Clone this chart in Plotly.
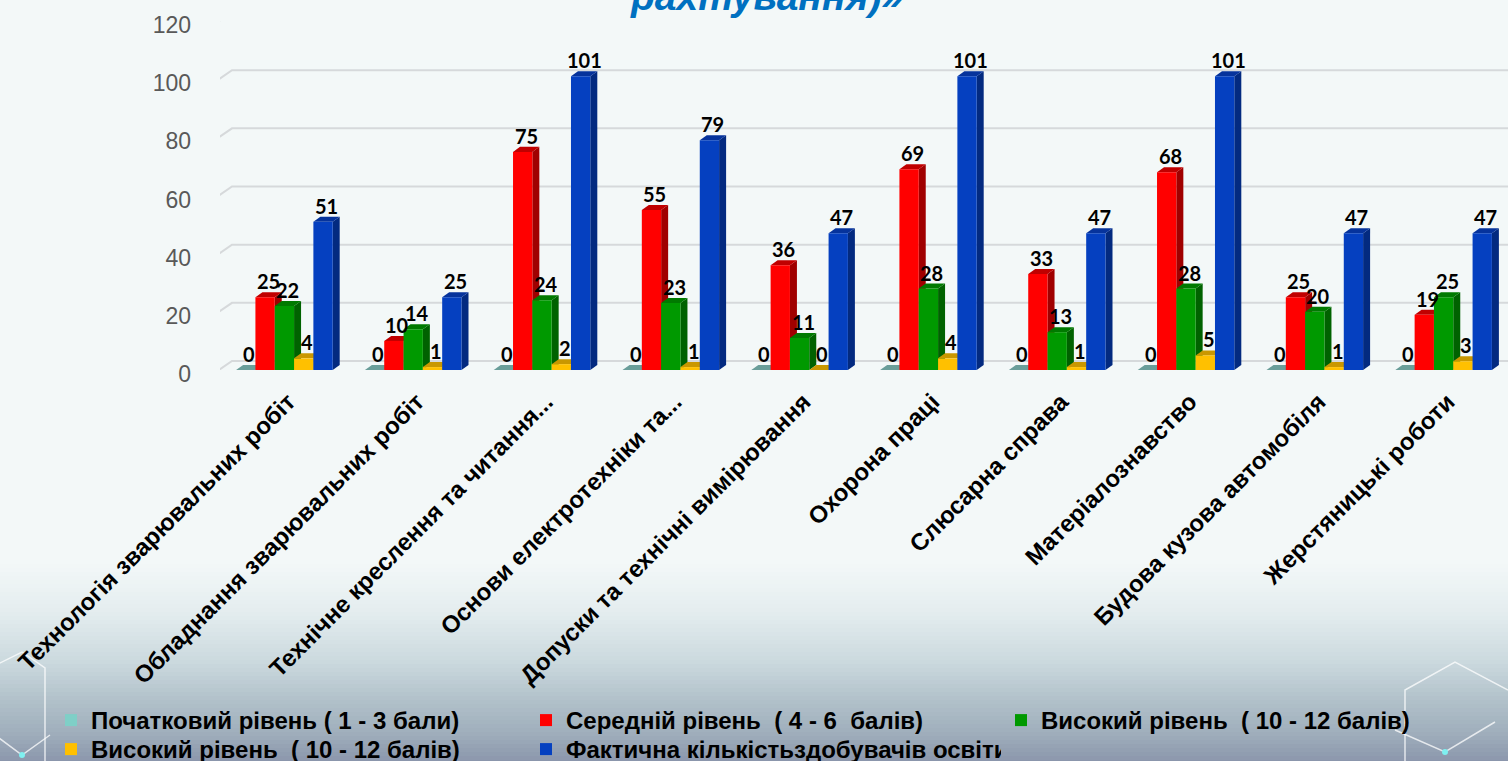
import plotly.graph_objects as go

# ---------------- data ----------------
categories = [
    "Технологія зварювальних робіт",
    "Обладнання зварювальних робіт",
    "Технічне креслення та читання...",
    "Основи електротехніки та...",
    "Допуски та технічні вимірювання",
    "Охорона праці",
    "Слюсарна справа",
    "Матеріалознавство",
    "Будова кузова автомобіля",
    "Жерстяницькі роботи",
]
series_names = [
    "Початковий рівень ( 1 - 3 бали)",
    "Середній рівень  ( 4 - 6  балів)",
    "Високий рівень  ( 10 - 12 балів)",
    "Високий рівень  ( 10 - 12 балів)",
    "Фактична кількістьздобувачів освіти",
]
initial_level = [0, 0, 0, 0, 0, 0, 0, 0, 0, 0]
middle_level = [25, 10, 75, 55, 36, 69, 33, 68, 25, 19]
high_level_green = [22, 14, 24, 23, 11, 28, 13, 28, 20, 25]
high_level_yellow = [4, 1, 2, 1, 0, 4, 1, 5, 1, 3]
actual_students = [51, 25, 101, 79, 47, 101, 47, 101, 47, 47]
y_ticks = [0, 20, 40, 60, 80, 100, 120]
title_fragment = "рахтування)»"

series_values = [initial_level, middle_level, high_level_green, high_level_yellow, actual_students]

# ---------------- styles ----------------
front_colors = ["#7FCFC7", "#FF0000", "#009900", "#FFC000", "#0540C0"]
top_colors = ["#6A9E9A", "#C00000", "#007A00", "#C99700", "#06339C"]
side_colors = ["#5A8A86", "#A00000", "#006200", "#B08400", "#032A80"]
legend_of_series = ["legend", "legend", "legend", "legend2", "legend2"]

W, H = 1508, 761
ML, MR, MT, MB = 220, 0, 21, 391
PW, PH = W - ML - MR, H - MT - MB
YMAX = 120
XMIN, XMAX = -0.5, len(categories) - 0.5
px_x = PW / (XMAX - XMIN)
px_y = PH / YMAX
BARGAP = 0.25
n_series = len(series_values)
bar_w = (1 - BARGAP) / n_series
DEPTH_X, DEPTH_Y = 7 / px_x, 5 / px_y  # bar depth, in data units
WALL_X, WALL_Y = 16 / px_x, 11 / px_y  # wall depth

FONT = "Liberation Sans, Arial, sans-serif"
LABEL_FONT = "Lato, Liberation Sans, sans-serif"

def pxx(p):
    return (p - ML) / PW

def pxy(p):
    return (H - MB - p) / PH

fig = go.Figure()
xs = list(range(len(categories)))
for k in range(n_series):
    fig.add_trace(go.Bar(
        x=xs, y=series_values[k], name=series_names[k], legend=legend_of_series[k],
        marker=dict(color=front_colors[k], line=dict(width=0)),
        hoverinfo="name+y",
    ))

shapes = []
# background gradient (bottom of slide)
stops = [(560, (243, 248, 248)), (610, (228, 237, 239)), (660, (203, 217, 222)),
         (700, (176, 192, 201)), (730, (160, 175, 188)), (761, (138, 149, 171))]
band = 4
y = stops[0][0]
while y < H:
    for i in range(len(stops) - 1):
        if stops[i][0] <= y <= stops[i + 1][0]:
            t = (y - stops[i][0]) / (stops[i + 1][0] - stops[i][0])
            c = tuple(int(round(stops[i][1][j] + t * (stops[i + 1][1][j] - stops[i][1][j]))) for j in range(3))
            break
    shapes.append(dict(type="rect", xref="paper", yref="paper", layer="below",
                       x0=pxx(0), x1=pxx(W), y0=pxy(y + band + 1), y1=pxy(y),
                       fillcolor="rgb(%d,%d,%d)" % c, line=dict(width=0)))
    y += band

# decorative hexagons
def hexpath(pts):
    return "M " + " L ".join("%f,%f" % (pxx(a), pxy(b)) for a, b in pts)

hex_lines = [
    [(-10, 668), (22, 652), (45, 668), (45, 761)],
    [(-5, 735), (22, 755), (50, 735)],
    [(1405, 761), (1405, 690), (1455, 662), (1508, 690)],
    [(1395, 730), (1445, 752), (1495, 722)],
]
for pts in hex_lines:
    shapes.append(dict(type="path", xref="paper", yref="paper", layer="below",
                       path=hexpath(pts), line=dict(color="rgba(255,255,255,0.75)", width=1.5)))
for cx, cy in [(22, 755), (1445, 752)]:
    shapes.append(dict(type="circle", xref="paper", yref="paper", layer="below",
                       x0=pxx(cx - 3), x1=pxx(cx + 3), y0=pxy(cy + 3), y1=pxy(cy - 3),
                       fillcolor="#7FF0F0", line=dict(width=0)))

# back-wall gridlines
for v in y_ticks:
    shapes.append(dict(type="path", xref="x", yref="y", layer="below",
                       path="M %f,%f L %f,%f L %f,%f" % (XMIN - 4 / px_x, v - 2 / px_y,
                                                          XMIN - 4 / px_x + WALL_X, v - 2 / px_y + WALL_Y,
                                                          XMAX + 1, v - 2 / px_y + WALL_Y),
                       line=dict(color="#D6D9DB", width=2)))

# 3D faces of each bar (drawn behind the front faces)
annotations = []
for i in xs:
    for k in range(n_series):
        v = series_values[k][i]
        left = i - (1 - BARGAP) / 2 + k * bar_w
        right = left + bar_w
        shapes.append(dict(type="path", xref="x", yref="y", layer="below",
                           path="M %f,0 L %f,%f L %f,%f L %f,%f Z" % (
                               right, right + DEPTH_X, DEPTH_Y, right + DEPTH_X, v + DEPTH_Y, right, v),
                           fillcolor=side_colors[k], line=dict(width=0)))
        shapes.append(dict(type="path", xref="x", yref="y", layer="below",
                           path="M %f,%f L %f,%f L %f,%f L %f,%f Z" % (
                               left, v, right, v, right + DEPTH_X, v + DEPTH_Y, left + DEPTH_X, v + DEPTH_Y),
                           fillcolor=top_colors[k], line=dict(width=0)))
        annotations.append(dict(x=(left + right) / 2 + DEPTH_X / 2, y=v + DEPTH_Y, xref="x", yref="y",
                                text=str(v), showarrow=False, yanchor="bottom", yshift=-3,
                                font=dict(family=LABEL_FONT, size=20, color="#000000", weight=700)))

annotations.append(dict(x=pxx(766), y=pxy(20), xref="paper", yref="paper",
                        text="<i><b>%s</b></i>" % title_fragment, showarrow=False,
                        xanchor="center", yanchor="bottom",
                        font=dict(family=FONT, size=39, color="#0070C0")))

legend_style = dict(orientation="h", xref="paper", yref="paper", xanchor="left", yanchor="top",
                    entrywidth=430, entrywidthmode="pixels",
                    bgcolor="rgba(0,0,0,0)", traceorder="normal", tracegroupgap=0,
                    font=dict(family=FONT, size=24, color="#000000", weight=700))

fig.update_layout(
    width=W, height=H,
    margin=dict(l=ML, r=MR, t=MT, b=MB, autoexpand=False),
    paper_bgcolor="#F3F8F8", plot_bgcolor="rgba(0,0,0,0)",
    barmode="group", bargap=BARGAP, bargroupgap=0,
    shapes=shapes, annotations=annotations,
    showlegend=True,
    legend=dict(x=pxx(51), y=pxy(698), **legend_style),
    legend2=dict(x=pxx(51), y=pxy(727), **legend_style),
    xaxis=dict(range=[XMIN, XMAX], tickvals=xs, ticktext=categories, tickangle=-45,
               showgrid=False, zeroline=False, showline=False, ticks="",
               ticklabelstandoff=12, ticklabelshift=4,
               tickfont=dict(family=FONT, size=24, color="#000000", weight=700)),
    yaxis=dict(range=[0, YMAX], tickvals=y_ticks, showgrid=False, zeroline=False,
               showline=False, ticks="", ticklabelstandoff=28, ticklabelshift=4,
               tickfont=dict(family=FONT, size=23, color="#595959")),
)

fig.write_html("out.html", config={"displayModeBar": False},
               post_script="document.body.style.margin='0px';")
